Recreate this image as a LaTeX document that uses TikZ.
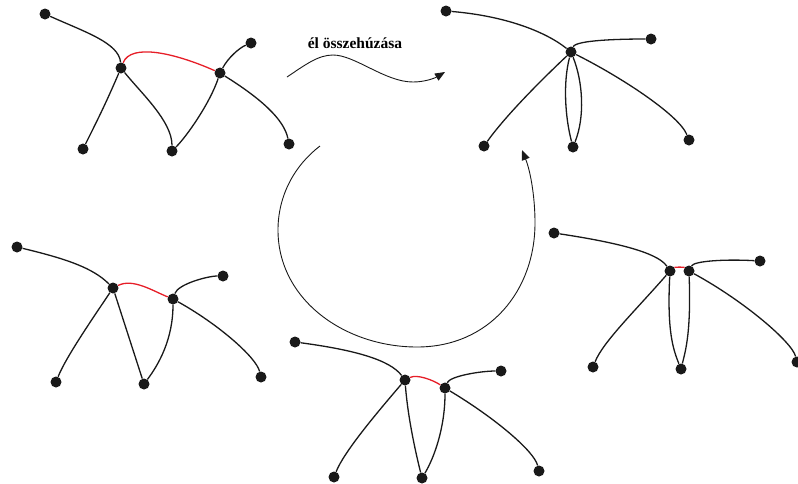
\documentclass[tikz,border=0pt]{standalone}
\usepackage{fontspec}
\setmainfont{Liberation Serif}
\usetikzlibrary{arrows.meta}
\definecolor{edgered}{RGB}{230,30,40}
\tikzset{
  dot/.style={circle,fill=black!90,inner sep=0pt,minimum size=11pt},
  edge/.style={line width=1.3pt,black!90},
  redge/.style={line width=1.3pt,edgered},
  flow/.style={line width=0.9pt,black!90,-{Triangle[length=10pt,width=8pt]}},
  lbl/.style={font=\bfseries\fontsize{15.5}{17}\selectfont}
}
\begin{document}
\begin{tikzpicture}[x=1pt,y=-1pt]
\useasboundingbox (0,0) rectangle (798,483);
% ---------- top-left graph ----------
\node[dot] (tA) at (45,14) {};
\node[dot] (tB) at (121,68) {};
\node[dot] (tC) at (220,73) {};
\node[dot] (tD) at (251,43) {};
\node[dot] (tE) at (83,149) {};
\node[dot] (tF) at (172,151) {};
\node[dot] (tG) at (289,144) {};
\draw[edge] (tA) .. controls +(40,18) and +(-2,-25) .. (tB);
\draw[redge] (tB) .. controls +(10,-25) and +(-45,-20) .. (tC);
\draw[edge] (tB) .. controls +(-15,35) and +(15,-30) .. (tE);
\draw[edge] (tB) .. controls +(20,25) and +(0,-30) .. (tF);
\draw[edge] (tF) .. controls +(15,-15) and +(-10,30) .. (tC);
\draw[edge] (tC) .. controls +(8,-15) and +(-12,5) .. (tD);
\draw[edge] (tC) .. controls +(40,25) and +(-5,-25) .. (tG);
% ---------- top-right graph ----------
\node[dot] (rA) at (446,11) {};
\node[dot] (rH) at (571,52) {};
\node[dot] (rD) at (651,39) {};
\node[dot] (rE) at (484,146) {};
\node[dot] (rF) at (573,147) {};
\node[dot] (rG) at (689,140) {};
\draw[edge] (rA) .. controls +(60,5) and +(-25,-20) .. (rH);
\draw[edge] (rH) .. controls +(5,-12) and +(-30,0) .. (rD);
\draw[edge] (rH) .. controls +(-35,33) and +(20,-28) .. (rE);
\draw[edge] (rH) .. controls +(50,25) and +(-10,-25) .. (rG);
\draw[edge] (rH) .. controls +(-8,30) and +(-8,-30) .. (rF);
\draw[edge] (rH) .. controls +(12,30) and +(12,-30) .. (rF);
% ---------- bottom-left graph ----------
\node[dot] (lA) at (17,247) {};
\node[dot] (lB) at (113,288) {};
\node[dot] (lC) at (173,299) {};
\node[dot] (lD) at (223,276) {};
\node[dot] (lE) at (56,382) {};
\node[dot] (lF) at (144,384) {};
\node[dot] (lG) at (261,377) {};
\draw[edge] (lA) .. controls +(50,12) and +(-20,-20) .. (lB);
\draw[redge] (lB) .. controls +(20,-10) and +(-20,-8) .. (lC);
\draw[edge] (lB) .. controls +(-20,30) and +(10,-25) .. (lE);
\draw[edge] (lB) -- (lF);
\draw[edge] (lF) .. controls +(15,-20) and +(0,40) .. (lC);
\draw[edge] (lC) .. controls +(5,-15) and +(-15,0) .. (lD);
\draw[edge] (lC) .. controls +(45,25) and +(-5,-20) .. (lG);
% ---------- bottom-middle graph ----------
\node[dot] (mA) at (295,342) {};
\node[dot] (mB) at (405,380) {};
\node[dot] (mC) at (445,388) {};
\node[dot] (mD) at (501,371) {};
\node[dot] (mE) at (334,477) {};
\node[dot] (mF) at (422,478) {};
\node[dot] (mG) at (539,471) {};
\draw[edge] (mA) .. controls +(60,8) and +(-15,-20) .. (mB);
\draw[redge] (mB) .. controls +(12,-6) and +(-12,-8) .. (mC);
\draw[edge] (mB) .. controls +(-30,35) and +(10,-25) .. (mE);
\draw[edge] (mB) .. controls +(3,40) and +(-5,-20) .. (mF);
\draw[edge] (mF) .. controls +(12,-20) and +(0,40) .. (mC);
\draw[edge] (mC) .. controls +(5,-12) and +(-20,0) .. (mD);
\draw[edge] (mC) .. controls +(50,30) and +(-5,-20) .. (mG);
% ---------- bottom-right graph ----------
\node[dot] (qA) at (554,233) {};
\node[dot] (qB) at (670,271) {};
\node[dot] (qC) at (689,271) {};
\node[dot] (qD) at (760,261) {};
\node[dot] (qE) at (593,367) {};
\node[dot] (qF) at (681,369) {};
\node[dot] (qG) at (797,362) {};
\draw[edge] (qA) .. controls +(80,12) and +(-10,-15) .. (qB);
\draw[redge] (qB) .. controls +(5,-4) and +(-5,-4) .. (qC);
\draw[edge] (qC) .. controls +(5,-10) and +(-35,-2) .. (qD);
\draw[edge] (qB) .. controls +(-35,40) and +(10,-25) .. (qE);
\draw[edge] (qC) .. controls +(55,30) and +(-5,-20) .. (qG);
\draw[edge] (qB) .. controls +(-3,60) and +(-8,-20) .. (qF);
\draw[edge] (qC) .. controls +(2,60) and +(5,-20) .. (qF);
% ---------- arrows and label ----------
\node[lbl] (label) at (355,43) {él összehúzása};
\coordinate (w1) at (287,77);
\coordinate (w2) at (445,72);
\draw[flow] (w1) .. controls (305,65) and (318,55) .. (333,55)
  .. controls (355,55) and (385,82) .. (413,82)
  .. controls (425,82) and (435,78) .. (w2);
\coordinate (c1) at (320,146);
\coordinate (c2) at (522,150);
\draw[flow] (c1) .. controls (295,165) and (278,195) .. (278,230)
  .. controls (278,300) and (345,347) .. (417,347)
  .. controls (490,347) and (535,290) .. (535,223)
  .. controls (535,195) and (530,170) .. (c2);
\end{tikzpicture}
\end{document}
